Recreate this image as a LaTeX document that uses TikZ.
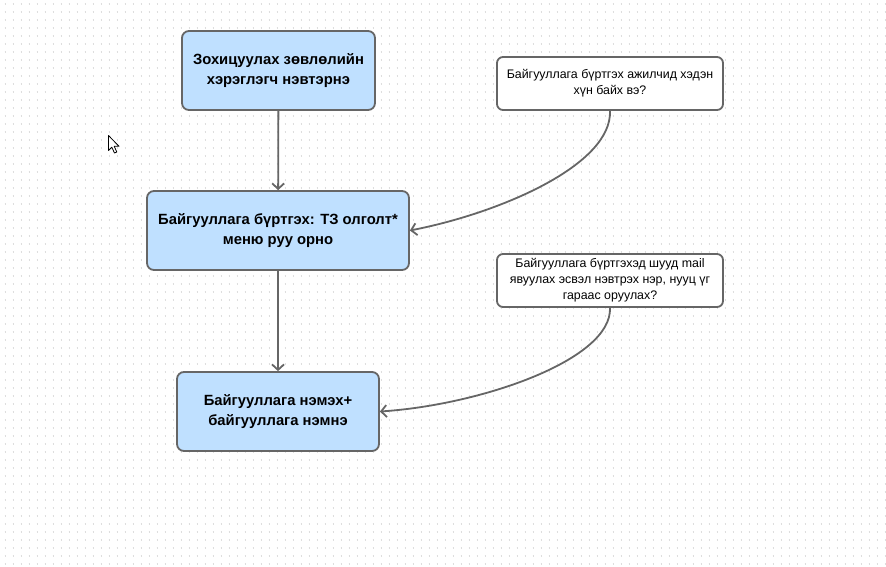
\documentclass[tikz,border=0pt]{standalone}
\usepackage{fontspec}
\setmainfont{Liberation Sans}
\usepackage{xcolor}
\usetikzlibrary{arrows.meta, positioning}
\definecolor{linegray}{RGB}{102, 102, 102}
\definecolor{boxblue}{RGB}{191, 224, 255}
\definecolor{dotgray}{RGB}{222, 222, 222}

\begin{document}
\begin{tikzpicture}[
    x=1pt, y=-1pt,
    stepbox/.style={draw=linegray, line width=1.8pt, fill=boxblue, rounded corners=7pt, align=center, font=\fontsize{14.8}{20}\selectfont\bfseries, inner sep=0pt},
    notebox/.style={draw=linegray, line width=1.8pt, fill=white, rounded corners=6pt, align=center, font=\fontsize{12.4}{16}\selectfont, inner sep=0pt},
    flow/.style={draw=linegray, line width=1.8pt, -{Straight Barb[length=5.5pt, width=12pt]}},
    gridline/.style={dotgray, line width=1.6pt, dash pattern=on 1pt off 7pt, dash phase=-4.5pt}
]
    % Background
    \useasboundingbox[fill=white] (0,0) rectangle (886,566);
    \foreach \y in {4,12,...,564}
        \draw[gridline] (0,\y) -- (886,\y);

    % Main steps
    \node[stepbox, minimum width=193pt, minimum height=79pt] (login) at (278.5, 70.5) {Зохицуулах зөвлөлийн\\хэрэглэгч нэвтэрнэ};
    \node[stepbox, minimum width=262pt, minimum height=79pt] (register) at (278, 230.5) {Байгууллага бүртгэх: ТЗ олголт*\\меню руу орно};
    \node[stepbox, minimum width=202pt, minimum height=79pt] (addorg) at (278, 411.5) {Байгууллага нэмэх+\\байгууллага нэмнэ};

    % Questions
    \node[notebox, minimum width=226pt, minimum height=53pt] (staffq) at (610, 83.5) {Байгууллага бүртгэх ажилчид хэдэн\\хүн байх вэ?};
    \node[notebox, minimum width=226pt, minimum height=53pt] (mailq) at (610, 280.5) {Байгууллага бүртгэхэд шууд mail\\явуулах эсвэл нэвтрэх нэр, нууц үг\\гараас оруулах?};

    % Connectors
    \draw[flow] (login) -- (register);
    \draw[flow] (register) -- (addorg);
    \draw[flow] (staffq.south) .. controls (612, 165) and (500, 213) .. (register.east);
    \draw[flow] (mailq.south) .. controls (612, 360) and (480, 405) .. (addorg.east);

    % Pointer
    \draw[black, fill=white, line width=0.8pt, line join=round] (108.5,135.5) -- (108.5,150.5) -- (111.8,147.2) -- (114.5,153) -- (116.8,152) -- (114.2,146.3) -- (119,146.3) -- cycle;
\end{tikzpicture}
\end{document}
